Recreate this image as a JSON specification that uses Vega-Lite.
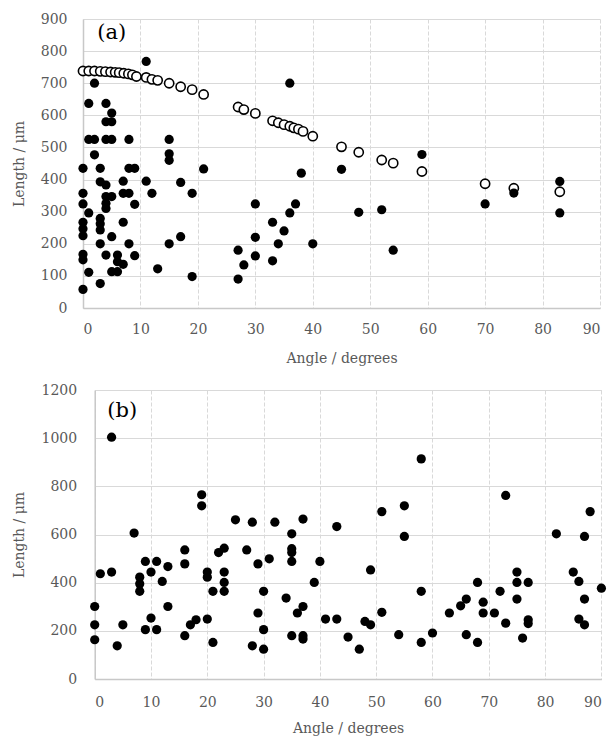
{
  "$schema": "https://vega.github.io/schema/vega-lite/v6.json",
  "background": "white",
  "padding": {"left": 12, "top": 12, "right": 0, "bottom": 0},
  "config": {
    "font": "DejaVu Serif",
    "view": {"stroke": null},
    "axis": {
      "labelFont": "DejaVu Serif", "titleFont": "DejaVu Serif",
      "labelColor": "#595959", "titleColor": "#595959",
      "labelFontSize": 14, "titleFontSize": 14, "titleFontWeight": "normal",
      "gridColor": "#d9d9d9", "gridWidth": 1, "domainColor": "#c8c8c8", "domainWidth": 1.5, "ticks": false, "labelOverlap": false
    }
  },
  "datasets": {
    "aFilled": [
      {"angle":0,"length":435},{"angle":0,"length":357},{"angle":0,"length":324},{"angle":0,"length":267},{"angle":0,"length":247},{"angle":0,"length":225},{"angle":0,"length":167},{"angle":0,"length":150},{"angle":0,"length":58},
      {"angle":1,"length":637},{"angle":1,"length":525},{"angle":1,"length":296},{"angle":1,"length":111},
      {"angle":2,"length":700},{"angle":2,"length":525},{"angle":2,"length":477},
      {"angle":3,"length":435},{"angle":3,"length":393},{"angle":3,"length":279},{"angle":3,"length":262},{"angle":3,"length":243},{"angle":3,"length":200},{"angle":3,"length":76},
      {"angle":4,"length":637},{"angle":4,"length":580},{"angle":4,"length":525},{"angle":4,"length":383},{"angle":4,"length":347},{"angle":4,"length":326},{"angle":4,"length":310},{"angle":4,"length":165},
      {"angle":5,"length":607},{"angle":5,"length":580},{"angle":5,"length":525},{"angle":5,"length":347},{"angle":5,"length":222},{"angle":5,"length":113},
      {"angle":6,"length":165},{"angle":6,"length":144},{"angle":6,"length":113},
      {"angle":7,"length":395},{"angle":7,"length":357},{"angle":7,"length":267},{"angle":7,"length":136},
      {"angle":8,"length":525},{"angle":8,"length":435},{"angle":8,"length":357},{"angle":8,"length":200},
      {"angle":9,"length":435},{"angle":9,"length":323},{"angle":9,"length":163},
      {"angle":11,"length":768},{"angle":11,"length":395},
      {"angle":12,"length":357},{"angle":13,"length":122},
      {"angle":15,"length":525},{"angle":15,"length":480},{"angle":15,"length":460},{"angle":15,"length":200},
      {"angle":17,"length":391},{"angle":17,"length":222},
      {"angle":19,"length":357},{"angle":19,"length":98},
      {"angle":21,"length":433},
      {"angle":27,"length":180},{"angle":27,"length":90},{"angle":28,"length":134},
      {"angle":30,"length":324},{"angle":30,"length":220},{"angle":30,"length":162},
      {"angle":33,"length":267},{"angle":33,"length":147},{"angle":34,"length":200},{"angle":35,"length":240},
      {"angle":36,"length":296},{"angle":36,"length":700},{"angle":37,"length":324},{"angle":38,"length":420},{"angle":40,"length":200},
      {"angle":45,"length":432},{"angle":48,"length":298},{"angle":52,"length":306},{"angle":54,"length":180},{"angle":59,"length":478},
      {"angle":70,"length":324},{"angle":75,"length":358},{"angle":83,"length":394},{"angle":83,"length":296}
    ],
    "aOpen": [
      {"angle":0,"length":738},{"angle":1,"length":738},{"angle":2,"length":738},{"angle":3,"length":737},{"angle":3.9,"length":736},{"angle":4.8,"length":735},
      {"angle":5.6,"length":734},{"angle":6.3,"length":733},{"angle":7.1,"length":731},{"angle":7.9,"length":729},{"angle":8.6,"length":726},{"angle":9.3,"length":721},
      {"angle":11,"length":718},{"angle":12,"length":712},{"angle":13,"length":709},{"angle":15,"length":700},{"angle":17,"length":689},{"angle":19,"length":680},{"angle":21,"length":665},
      {"angle":27,"length":626},{"angle":28,"length":618},{"angle":30,"length":606},
      {"angle":33,"length":583},{"angle":34,"length":577},{"angle":35,"length":571},{"angle":36,"length":566},{"angle":36.7,"length":561},{"angle":37.5,"length":557},{"angle":38.3,"length":550},{"angle":40,"length":535},
      {"angle":45,"length":502},{"angle":48,"length":485},{"angle":52,"length":461},{"angle":54,"length":451},{"angle":59,"length":425},
      {"angle":70,"length":387},{"angle":75,"length":373},{"angle":83,"length":362}
    ],
    "b": [
      {"angle":0,"length":301},{"angle":0,"length":225},{"angle":0,"length":163},
      {"angle":1,"length":437},{"angle":3,"length":444},{"angle":3,"length":1004},
      {"angle":4,"length":138},{"angle":5,"length":225},{"angle":7,"length":606},
      {"angle":8,"length":423},{"angle":8,"length":395},{"angle":8,"length":364},
      {"angle":9,"length":488},{"angle":9,"length":205},
      {"angle":10,"length":444},{"angle":10,"length":253},
      {"angle":11,"length":488},{"angle":11,"length":205},
      {"angle":12,"length":405},{"angle":13,"length":467},{"angle":13,"length":301},
      {"angle":16,"length":536},{"angle":16,"length":478},{"angle":16,"length":180},
      {"angle":17,"length":225},{"angle":18,"length":246},
      {"angle":19,"length":765},{"angle":19,"length":719},
      {"angle":20,"length":444},{"angle":20,"length":423},{"angle":20,"length":249},
      {"angle":21,"length":364},{"angle":21,"length":152},
      {"angle":22,"length":525},{"angle":23,"length":543},{"angle":23,"length":444},{"angle":23,"length":401},{"angle":23,"length":364},
      {"angle":25,"length":661},{"angle":27,"length":536},
      {"angle":28,"length":651},{"angle":28,"length":138},
      {"angle":29,"length":478},{"angle":29,"length":274},
      {"angle":30,"length":364},{"angle":30,"length":205},{"angle":30,"length":124},
      {"angle":31,"length":499},{"angle":32,"length":651},{"angle":34,"length":336},
      {"angle":35,"length":603},{"angle":35,"length":541},{"angle":35,"length":525},{"angle":35,"length":488},{"angle":35,"length":180},
      {"angle":36,"length":274},{"angle":37,"length":301},{"angle":37,"length":664},{"angle":37,"length":180},{"angle":37,"length":166},
      {"angle":39,"length":401},{"angle":40,"length":488},
      {"angle":41,"length":249},{"angle":43,"length":249},{"angle":43,"length":633},
      {"angle":45,"length":174},{"angle":47,"length":124},{"angle":48,"length":239},{"angle":49,"length":225},{"angle":49,"length":453},
      {"angle":51,"length":695},{"angle":51,"length":277},{"angle":54,"length":184},
      {"angle":55,"length":719},{"angle":55,"length":592},
      {"angle":58,"length":914},{"angle":58,"length":364},{"angle":58,"length":152},
      {"angle":60,"length":191},{"angle":63,"length":274},{"angle":65,"length":304},{"angle":66,"length":332},{"angle":66,"length":184},
      {"angle":68,"length":401},{"angle":68,"length":152},{"angle":69,"length":319},{"angle":69,"length":274},
      {"angle":71,"length":274},{"angle":72,"length":364},{"angle":73,"length":762},{"angle":73,"length":232},
      {"angle":75,"length":444},{"angle":75,"length":401},{"angle":75,"length":332},{"angle":76,"length":170},
      {"angle":77,"length":401},{"angle":77,"length":246},{"angle":77,"length":230},
      {"angle":82,"length":603},{"angle":85,"length":444},{"angle":86,"length":405},{"angle":86,"length":249},
      {"angle":87,"length":592},{"angle":87,"length":332},{"angle":87,"length":225},{"angle":88,"length":695},{"angle":90,"length":377}
    ]
  },
  "vconcat": [
    {
      "width": 517, "height": 289,
      "layer": [
        {
          "data": {"name": "aOpen"},
          "mark": {"type": "point", "shape": "circle", "filled": false, "fill": "white", "stroke": "black", "strokeWidth": 1.6, "size": 85, "opacity": 1},
          "encoding": {
            "x": {"field": "angle", "type": "quantitative", "scale": {"domain": [0, 90], "nice": false},
                  "axis": {"title": "Angle / degrees", "values": [0,10,20,30,40,50,60,70,80,90], "labelPadding": 14, "titlePadding": 15, "gridDash": [4, 2]}},
            "y": {"field": "length", "type": "quantitative", "scale": {"domain": [0, 900], "nice": false},
                  "axis": {"title": "Length / μm", "values": [0,100,200,300,400,500,600,700,800,900], "format": "d", "labelPadding": 16, "titlePadding": 13.6}}
          }
        },
        {
          "data": {"name": "aFilled"},
          "mark": {"type": "circle", "color": "black", "size": 85, "opacity": 1},
          "encoding": {
            "x": {"field": "angle", "type": "quantitative",
                  "axis": {"title": "Angle / degrees", "values": [0,10,20,30,40,50,60,70,80,90], "labelPadding": 14, "titlePadding": 15, "gridDash": [4, 2]}},
            "y": {"field": "length", "type": "quantitative",
                  "axis": {"title": "Length / μm", "values": [0,100,200,300,400,500,600,700,800,900], "format": "d", "labelPadding": 16, "titlePadding": 13.6}}
          }
        },
        {
          "data": {"values": [{"label": "(a)"}]},
          "mark": {"type": "text", "fontSize": 21, "font": "DejaVu Serif", "color": "black", "align": "center", "baseline": "middle"},
          "encoding": {
            "x": {"datum": 5, "type": "quantitative",
                  "axis": {"title": "Angle / degrees", "values": [0,10,20,30,40,50,60,70,80,90], "labelPadding": 14, "titlePadding": 15, "gridDash": [4, 2]}},
            "y": {"datum": 856, "type": "quantitative",
                  "axis": {"title": "Length / μm", "values": [0,100,200,300,400,500,600,700,800,900], "format": "d", "labelPadding": 16, "titlePadding": 13.6}},
            "text": {"field": "label"}
          }
        }
      ]
    },
    {
      "width": 518, "height": 289,
      "layer": [
        {
          "data": {"name": "b"},
          "mark": {"type": "circle", "color": "black", "size": 85, "opacity": 1},
          "encoding": {
            "x": {"field": "angle", "type": "quantitative", "scale": {"domain": [0, 90], "nice": false, "range": [11.7, 518.4]},
                  "axis": {"title": "Angle / degrees", "values": [0,10,20,30,40,50,60,70,80,90], "labelPadding": 16.7, "titlePadding": 12, "gridDash": [4, 2]}},
            "y": {"field": "length", "type": "quantitative", "scale": {"domain": [0, 1200], "nice": false},
                  "axis": {"title": "Length / μm", "values": [0,200,400,600,800,1000,1200], "format": "d", "offset": -11.7, "labelPadding": 18, "titlePadding": 14.4}}
          }
        },
        {
          "data": {"values": [{"label": "(b)"}]},
          "mark": {"type": "text", "fontSize": 21, "font": "DejaVu Serif", "color": "black", "align": "center", "baseline": "middle"},
          "encoding": {
            "x": {"datum": 4.9, "type": "quantitative",
                  "axis": {"title": "Angle / degrees", "values": [0,10,20,30,40,50,60,70,80,90], "labelPadding": 16.7, "titlePadding": 12, "gridDash": [4, 2]}},
            "y": {"datum": 1113, "type": "quantitative",
                  "axis": {"title": "Length / μm", "values": [0,200,400,600,800,1000,1200], "format": "d", "offset": -11.7, "labelPadding": 18, "titlePadding": 14.4}},
            "text": {"field": "label"}
          }
        }
      ]
    }
  ],
  "spacing": 18
}
